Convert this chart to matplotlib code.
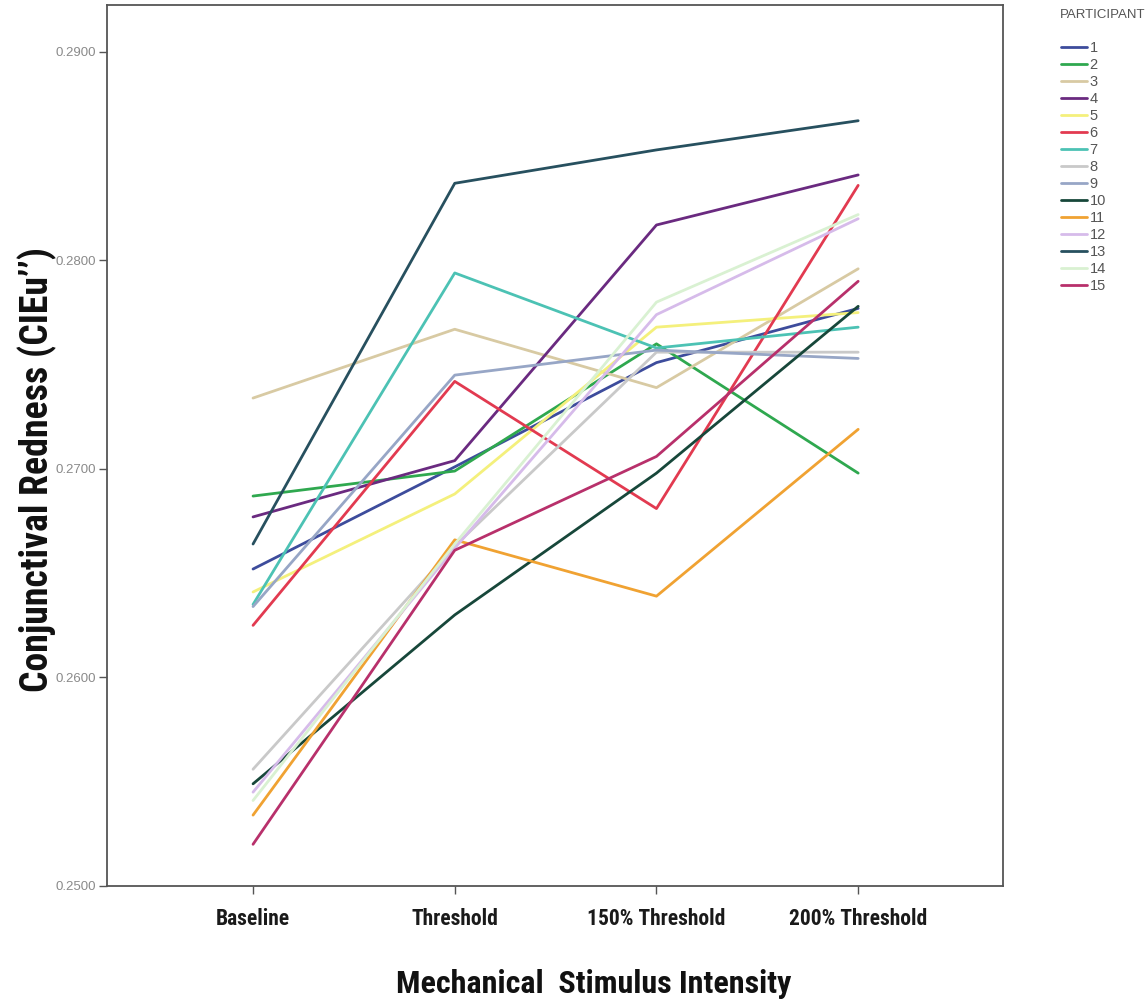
import matplotlib
matplotlib.use("Agg")
import matplotlib.pyplot as plt
from matplotlib.font_manager import fontManager

# Conditions on the x axis
conditions = ["Baseline", "Threshold", "150% Threshold", "200% Threshold"]

# Conjunctival redness (CIE u'') per participant across conditions
p1 = [0.2652, 0.2701, 0.2751, 0.2777]
p2 = [0.2687, 0.2699, 0.2760, 0.2698]
p3 = [0.2734, 0.2767, 0.2739, 0.2796]
p4 = [0.2677, 0.2704, 0.2817, 0.2841]
p5 = [0.2641, 0.2688, 0.2768, 0.2775]
p6 = [0.2625, 0.2742, 0.2681, 0.2836]
p7 = [0.2635, 0.2794, 0.2758, 0.2768]
p8 = [0.2556, 0.2663, 0.2756, 0.2756]
p9 = [0.2634, 0.2745, 0.2757, 0.2753]
p10 = [0.2549, 0.2630, 0.2698, 0.2778]
p11 = [0.2534, 0.2666, 0.2639, 0.2719]
p12 = [0.2545, 0.2662, 0.2774, 0.2820]
p13 = [0.2664, 0.2837, 0.2853, 0.2867]
p14 = [0.2541, 0.2664, 0.2780, 0.2822]
p15 = [0.2520, 0.2661, 0.2706, 0.2790]

participants = [str(i) for i in range(1, 16)]
series = [p1, p2, p3, p4, p5, p6, p7, p8, p9, p10, p11, p12, p13, p14, p15]
colors = ["#3d4c9c", "#2fa84f", "#d8caa3", "#6a2a80", "#f4f07c",
          "#e23a50", "#4cc2b4", "#c9c9c9", "#97a6c6", "#17473a",
          "#f0a232", "#d6bbea", "#27505f", "#d9f1d2", "#b8306b"]

yticks = [0.2500, 0.2600, 0.2700, 0.2800, 0.2900]

# Prefer a condensed face for the axis titles when one is installed
names = {f.name for f in fontManager.ttflist}
title_font = "Liberation Sans"
for cand in ["Roboto Condensed", "Open Sans Condensed", "Liberation Sans Narrow",
             "DejaVu Sans Condensed"]:
    if cand in names:
        title_font = cand
        break

W, H = 1147, 1001
fig = plt.figure(figsize=(W / 100, H / 100), dpi=100)
ax = fig.add_axes([107 / W, 1 - 886 / H, (1003 - 107) / W, (886 - 5) / H])

x = list(range(len(conditions)))
handles = []
for name, vals, c in zip(participants, series, colors):
    h, = ax.plot(x, vals, color=c, lw=2.0, solid_capstyle="round", label=name)
    handles.append(h)

ax.set_xlim(-0.724, 3.718)
ax.set_ylim(0.25, 0.29225)
ax.set_yticks(yticks)
ax.set_yticklabels([f"{v:.4f}" for v in yticks], fontsize=9.5, color="#8a8a8a",
                   family="Liberation Sans")
ax.set_xticks(x)
ax.set_xticklabels(conditions, fontsize=15.5, fontweight="bold", family=title_font,
                   color="#1a1a1a")
ax.tick_params(axis="both", direction="out", length=6, width=1, color="#555555")
ax.tick_params(axis="x", pad=10)
ax.tick_params(axis="y", pad=2)
for s in ax.spines.values():
    s.set_color("#555555")
    s.set_linewidth(1.3)

ylab = fig.text(37 / W, 1 - 470 / H, "Conjunctival Redness (CIEu\u2019\u2019)", rotation=90,
                ha="center", va="center", fontsize=20, fontweight="bold",
                family=title_font, color="#111111")
xlab = fig.text(594 / W, 1 - 984 / H, "Mechanical  Stimulus Intensity",
                ha="center", va="center", fontsize=20, fontweight="bold",
                family=title_font, color="#111111")

# Size the axis titles to their intended spans
fig.canvas.draw()
r = fig.canvas.get_renderer()
for t, target, use_h in [(ylab, 445, True), (xlab, 395, False)]:
    bb = t.get_window_extent(r)
    span = bb.height if use_h else bb.width
    t.set_fontsize(t.get_fontsize() * target / span)

fig.text(1060 / W, 1 - 15 / H, "PARTICIPANT", ha="left", va="center",
         fontsize=9.5, color="#555555", family="Liberation Sans")
leg = fig.legend(handles=handles, loc="upper left",
                 bbox_to_anchor=(1061 / W, 1 - 41 / H), frameon=False,
                 prop={"family": "Liberation Sans", "size": 10.5},
                 handlelength=1.75, handletextpad=0.2,
                 labelspacing=0.205, borderaxespad=0, borderpad=0)
for t in leg.get_texts():
    t.set_color("#555555")

fig.savefig("out.png", dpi=100, facecolor="white")
